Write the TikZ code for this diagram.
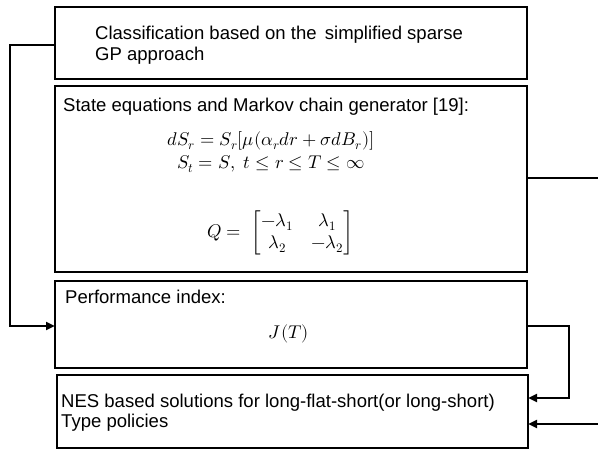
\documentclass[tikz,border=0pt]{standalone}
\usepackage{amsmath}
\usepackage{fontspec}
\usepackage{unicode-math}
\setmainfont{Liberation Sans}
\setmathfont{Latin Modern Math}
\usetikzlibrary{arrows.meta}
\begin{document}
\begin{tikzpicture}[x=1bp,y=-1bp,
  blk/.style={draw,line width=1.6bp},
  conn/.style={line width=2.4bp,line join=miter},
  arr/.style={conn,-{Triangle[length=9bp,width=8bp]}},
  txt/.style={inner sep=0,anchor=base west,font=\fontsize{18.6}{21}\selectfont,align=left},
  mth/.style={inner sep=0,font=\fontsize{18.5}{22}\selectfont}]
\useasboundingbox (0,0) rectangle (598,449);
\draw[blk] (55,7) rectangle (527,79);
\coordinate (b1l) at (55,45);
\draw[blk] (55,86) rectangle (527,272);
\coordinate (b2r) at (527,178);
\draw[blk] (55,281) rectangle (527,368);
\coordinate (b3l) at (55,326);
\coordinate (b3r) at (527,326);
\draw[blk] (57,375) rectangle (528,448);
\coordinate (b4a) at (528,398);
\coordinate (b4b) at (528,424);
\coordinate (e1) at (600,178);
\coordinate (e2) at (600,424);

\node[txt] (t1) at (95,40) {Classification based on the\, simplified sparse};
\node[txt] (t1b) at (95,61) {GP approach};
\node[txt] (t2) at (63,112) {State equations and Markov chain generator [19]:};
\node[mth,anchor=base] (eq1) at (271,157) {$\begin{gathered} dS_r = S_r[\mu(\alpha_r dr + \sigma dB_r)]\\[-2pt] S_t = S,\ t \le r \le T \le \infty\end{gathered}$};
\node[mth,anchor=west] (eq2) at (207,233) {\setlength{\arraycolsep}{9pt}$Q =\ \begin{bmatrix} -\lambda_1 & \lambda_1\\ \lambda_2 & -\lambda_2\end{bmatrix}$};
\node[mth,anchor=base] (jt) at (289,338) {$J(T)$};
\node[txt] (t3) at (65,303) {Performance index:};
\node[txt] (t4) at (61,407) {NES based solutions for long-flat-short(or long-short)};
\node[txt] (t4b) at (61,427) {Type policies};

\draw[arr] (b1l) -- (10,45) |- (b3l);
\draw[conn] (b2r) -- (e1);
\draw[arr] (b3r) -- (569,326) |- (b4a);
\draw[arr] (e2) -- (b4b);
\end{tikzpicture}
\end{document}
